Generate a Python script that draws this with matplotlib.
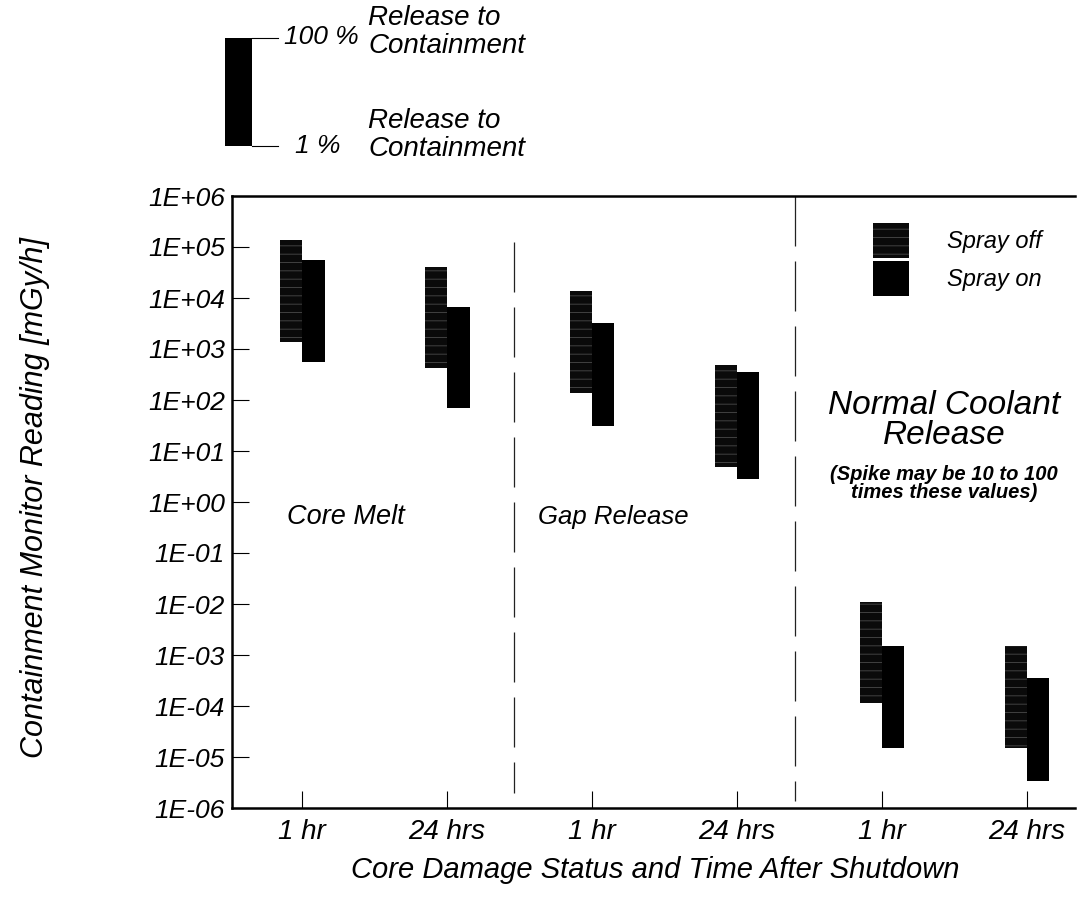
import numpy as np
import matplotlib
matplotlib.use("Agg")
import matplotlib.pyplot as plt
from matplotlib.patches import Patch, Rectangle
from matplotlib.lines import Line2D

plt.rcParams['font.family'] = ['Liberation Sans', 'DejaVu Sans']
plt.rcParams['font.style'] = 'italic'
plt.rcParams['hatch.linewidth'] = 0.6

# cases along the x axis
groups = ['Core Melt', 'Gap Release', 'Normal Coolant\nRelease']
times = ['1 hr', '24 hrs', '1 hr', '24 hrs', '1 hr', '24 hrs']

# monitor reading [mGy/h] for 100 % and 1 % release to containment
off_hi = [1.4e5, 4.0e4, 1.4e4, 4.9e2, 1.1e-2, 1.5e-3]
off_lo = [1.4e3, 4.3e2, 1.4e2, 4.9e0, 1.15e-4, 1.5e-5]
on_hi = [5.5e4, 6.7e3, 3.3e3, 3.5e2, 1.5e-3, 3.5e-4]
on_lo = [5.6e2, 7.0e1, 3.1e1, 2.8e0, 1.5e-5, 3.4e-6]

decades = np.arange(-6, 7)
ytick_labels = ['1E%+03d' % k for k in decades]

W, H = 1090, 905
fig = plt.figure(figsize=(W / 100, H / 100), dpi=100)
ax = fig.add_axes([232 / W, 1 - 808 / H, (1075 - 232) / W, (808 - 196) / H])

def fpos(x, y):
    return x / W, 1 - y / H

x = np.arange(len(times))
bw = 0.155
off = np.array(off_lo)
on = np.array(on_lo)
ax.bar(x, np.array(off_hi) - off, bottom=off, width=-bw, align='edge',
       color='#0a0a0a', edgecolor='#4a4a4a', linewidth=0, hatch='--')
ax.bar(x, np.array(on_hi) - on, bottom=on, width=bw, align='edge',
       color='black', linewidth=0)

ax.set_yscale('log')
ax.set_ylim(1e-6, 1e6)
ax.set_xlim(-0.483, 5.331)
ax.set_yticks(10.0 ** decades)
ax.set_yticklabels(ytick_labels)
ax.yaxis.set_minor_locator(matplotlib.ticker.NullLocator())
ax.set_xticks(x)
ax.set_xticklabels(times)
ax.tick_params(direction='in', length=12, width=0.8)
ax.tick_params(axis='x', pad=8, labelsize=20)
ax.tick_params(axis='y', pad=5, labelsize=19)
ax.spines['right'].set_visible(False)
for s in ['left', 'top', 'bottom']:
    ax.spines[s].set_linewidth(1.8)

# dashed separators between damage states
ax.plot([1.462, 1.462], [1.25e5, 2e-6], color='#222222', lw=0.9, ls=(0, (40, 12)))
ax.plot([3.40, 3.40], [1e6, 1.4e-6], color='#222222', lw=0.9, ls=(0, (40, 12)))

ax.text(0.30, 0.5, groups[0], ha='center', va='center', fontsize=19.5)
ax.text(2.15, 0.5, groups[1], ha='center', va='center', fontsize=18.5)
ax.text(4.43, 10 ** 1.6, groups[2], ha='center', va='center', fontsize=24,
        linespacing=0.95)
ax.text(4.43, 10 ** 0.37, '(Spike may be 10 to 100\ntimes these values)',
        ha='center', va='center', fontsize=14.5, fontweight='bold', linespacing=0.95)

handles = [Patch(facecolor='#0a0a0a', edgecolor='#4a4a4a', linewidth=0, hatch='--'),
           Patch(facecolor='black', linewidth=0)]
ax.legend(handles, ['Spray off', 'Spray on'], loc='upper left',
          bbox_to_anchor=(0.735, 0.99), frameon=False, fontsize=17,
          handlelength=1.55, handleheight=1.9, handletextpad=1.6, labelspacing=0.12)

fig.text(*fpos(35, 498), 'Containment Monitor Reading [mGy/h]', rotation=90,
         ha='center', va='center', fontsize=22)
fig.text(*fpos(655, 870), 'Core Damage Status and Time After Shutdown',
         ha='center', va='center', fontsize=21)

# release fraction key
x0, y0 = fpos(225, 146)
x1, y1 = fpos(252, 38)
fig.patches.append(Rectangle((x0, y0), x1 - x0, y1 - y0, transform=fig.transFigure,
                             facecolor='black', edgecolor='none'))
for yy in (38, 146):
    a, b = fpos(252, yy)
    c, _ = fpos(278, yy)
    fig.add_artist(Line2D([a, c], [b, b], color='black', lw=0.8, transform=fig.transFigure))
fig.text(*fpos(321, 37), '100 %', ha='center', va='center', fontsize=19)
fig.text(*fpos(318, 146), '1 %', ha='center', va='center', fontsize=19)
fig.text(*fpos(368, 32), 'Release to\nContainment', ha='left', va='center',
         fontsize=20, linespacing=1.12)
fig.text(*fpos(368, 135), 'Release to\nContainment', ha='left', va='center',
         fontsize=20, linespacing=1.12)

fig.savefig('out.png', dpi=100)
